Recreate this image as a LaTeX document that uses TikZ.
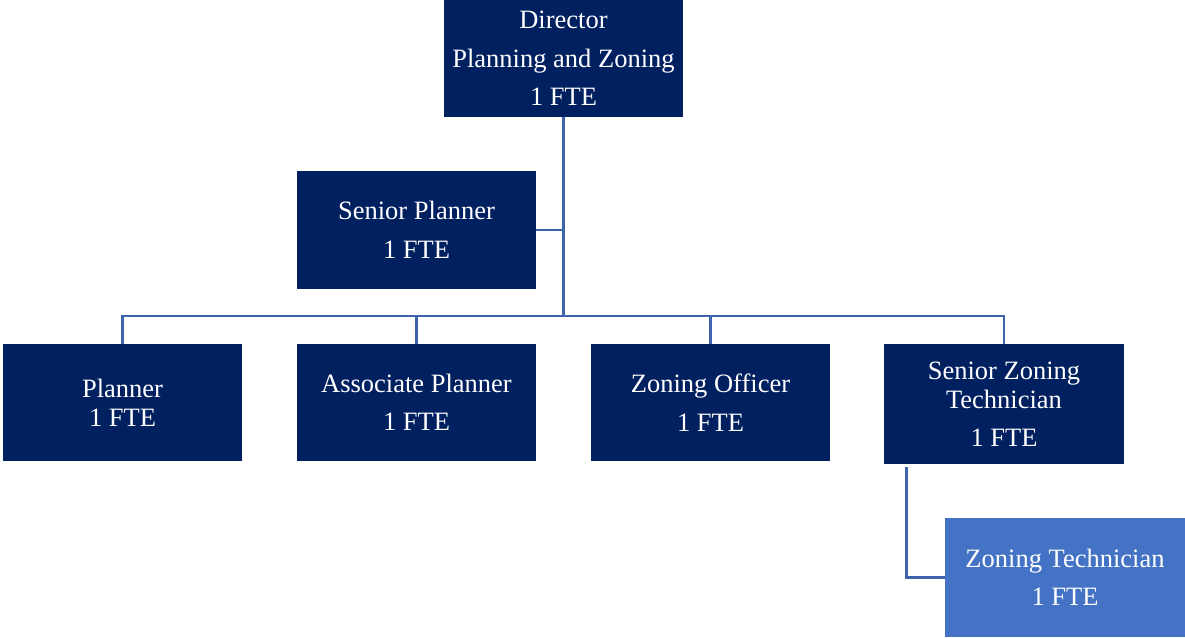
\documentclass[tikz,border=0pt]{standalone}
\usepackage{fontspec}
\setmainfont{Liberation Serif}
\definecolor{darkbox}{HTML}{002060}
\definecolor{lightbox}{HTML}{4472C4}
\definecolor{connc}{HTML}{3F64AE}
\begin{document}
\begin{tikzpicture}[x=1pt,y=-1pt,
  box/.style={fill=darkbox, text=white, inner sep=0pt, minimum width=239pt,
    minimum height=117pt, align=center, font=\fontsize{26.5}{29}\selectfont},
  conn/.style={draw=connc, line width=2.8pt}]
\useasboundingbox (0,0) rectangle (1185,638);
\node[box] (dir) at (563.5,58.5) {Director\\[9.5pt]Planning and Zoning\\[9.5pt]1 FTE};
\node[box, minimum height=118pt] (sp) at (416.5,230) {Senior Planner\\[9.5pt]1 FTE};
\node[box] (pl) at (122.5,402.5) {Planner\\1 FTE};
\node[box] (ap) at (416.5,402.5) {Associate Planner\\[9.5pt]1 FTE};
\node[box] (zo) at (710.5,402.5) {Zoning Officer\\[9.5pt]1 FTE};
\node[box, minimum height=120pt, minimum width=240pt] (szt) at (1004,404) {Senior Zoning\\Technician\\[9.5pt]1 FTE};
\node[box, fill=lightbox, minimum height=119pt, minimum width=240pt] (zt) at (1065,577.5) {Zoning Technician\\[9.5pt]1 FTE};
\coordinate (hub) at (563.5,316);
\draw[conn] (dir.south) -- (hub);
\draw[conn] (sp.east) -- (sp.east -| hub);
\draw[conn] (pl.north) |- (hub) -| (szt.north);
\draw[conn] (ap.north) -- (ap.north |- hub);
\draw[conn] (zo.north) -- (zo.north |- hub);
\draw[conn] ([xshift=23pt,yshift=-3pt]szt.south west) |- (zt.west);
\end{tikzpicture}
\end{document}
